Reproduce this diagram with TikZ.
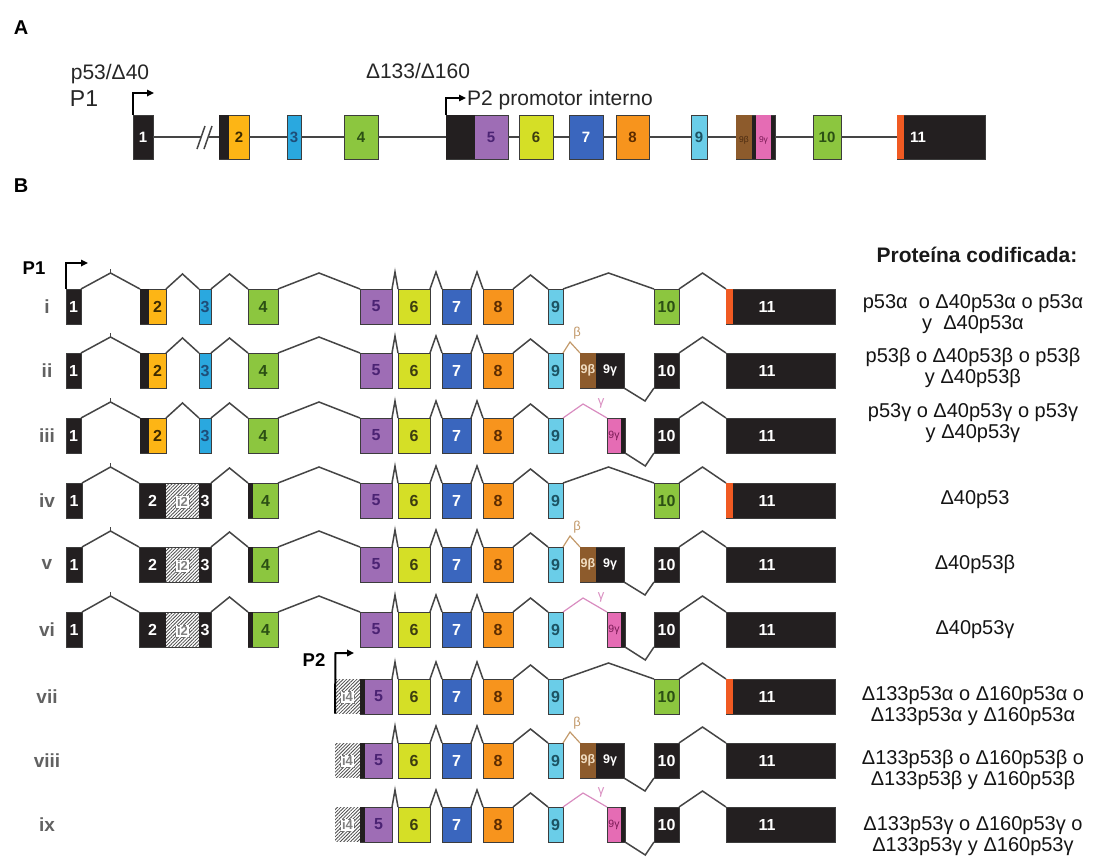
\documentclass[tikz,border=0pt]{standalone}
\usepackage{fontspec}
\setmainfont{Liberation Sans}
\usetikzlibrary{arrows.meta,patterns.meta,calc}
\definecolor{exblack}{HTML}{231F20}
\definecolor{exborder}{HTML}{3C3C3C}
\definecolor{cYel}{HTML}{FDB515}
\definecolor{cBlue3}{HTML}{2AA8DF}
\definecolor{cGreen}{HTML}{8CC63F}
\definecolor{cPurple}{HTML}{9E6DB5}
\definecolor{cLime}{HTML}{D5DF26}
\definecolor{cBlue7}{HTML}{3A66BE}
\definecolor{cOrange}{HTML}{F7941D}
\definecolor{cCyan}{HTML}{6ACDE8}
\definecolor{cBrown}{HTML}{8D5B2C}
\definecolor{cPink}{HTML}{E56CB4}
\definecolor{cRed}{HTML}{F05A22}
\definecolor{introngray}{HTML}{454545}
\definecolor{betatan}{HTML}{C39A6B}
\definecolor{gammapink}{HTML}{D98CC0}
\definecolor{lab2}{HTML}{3D2B00}
\definecolor{lab3}{HTML}{1E4E79}
\definecolor{lab4}{HTML}{2B4F14}
\definecolor{lab5}{HTML}{4B2373}
\definecolor{lab6}{HTML}{3D3D10}
\definecolor{lab8}{HTML}{5C2C00}
\definecolor{lab9}{HTML}{1D5363}
\definecolor{labbeta}{HTML}{F0DCC0}
\definecolor{labgam}{HTML}{7A1A55}
\definecolor{labbrA}{HTML}{4A2A10}
\tikzset{
  exbox/.style={draw=exborder,line width=0.9pt,inner sep=0pt,outer sep=0pt,anchor=north west,minimum height=35pt},
  exboxA/.style={exbox,minimum height=44pt},
  exlab/.style={inner sep=0pt,font=\bfseries\fontsize{16}{16}\selectfont},
  exlabA/.style={inner sep=0pt,font=\bfseries\fontsize{15}{15}\selectfont},
  exlabAs/.style={inner sep=0pt,font=\fontsize{8.5}{8.5}\selectfont},
  exlabS/.style={inner sep=0pt,font=\bfseries\fontsize{12.5}{12.5}\selectfont},
  exlabT/.style={inner sep=0pt,font=\fontsize{10.5}{10.5}\selectfont},
  greek/.style={inner sep=0pt,font=\fontsize{13}{13}\selectfont},
  intron/.style={draw=introngray,line width=1.5pt,line join=miter},
  backbone/.style={draw=introngray,line width=2pt},
  prom/.style={draw=black,line width=1.6pt,-{Triangle[length=7pt,width=6.5pt]}},
  hatch/.style={draw=none,fill=white,postaction={pattern={Lines[angle=45,distance=2.4pt,line width=0.8pt]},pattern color=black!70}},
  ilab/.style={draw=black!55,dashed,line width=0.6pt,fill=white,inner sep=1.5pt,text=black!50,font=\bfseries\fontsize{13}{13}\selectfont},
  rowlab/.style={font=\bfseries\fontsize{19}{19}\selectfont,text=black!62},
  prot/.style={font=\fontsize{20}{21}\selectfont,align=center,text=black!92},
  lblA/.style={font=\fontsize{21}{21}\selectfont,text=black!85},
  panlab/.style={font=\bfseries\fontsize{20}{20}\selectfont},
  promlab/.style={font=\bfseries\fontsize{18.5}{18.5}\selectfont},
}
\newcommand\XEx[6][exbox]{\node[#1,fill=#6,minimum width={(#4)-(#3)}] (#2) at (#3,#5) {};}
\newcommand\XLb[6][exlab]{\node[#1,text=#6] (#2) at (#3,#4) {#5};}
\newcommand\XSt[5]{\fill[#5] (#1,#3) rectangle (#2,#4);}
\newcommand\XPk[3]{\draw[intron] (#1.north east) -- ($(#1.north east)!0.5!(#2.north west)+(0,-#3)$) -- (#2.north west);}
\newcommand\XTick[2]{\draw[intron,line width=1pt] ($(#1.north east)!0.5!(#2.north west)+(0,-16)$) -- ++(0,-4);}
\newcommand\XVee[2]{\draw[intron] (#1.south east) -- ($(#1.south east)!0.7!(#2.south west)+(0,13)$) -- (#2.south west);}
\newcommand\StartA[2]{%
 \XEx{#1e1}{66}{81}{#2}{exblack}\XLb{#1l1}{73.5}{#2+17.5}{1}{white}
 \XEx{#1e2}{140}{166}{#2}{cYel}\XSt{140.45}{149}{#2+0.45}{#2+34.55}{exblack}\XLb{#1l2}{157.5}{#2+17.5}{2}{lab2}
 \XEx{#1e3}{199}{211}{#2}{cBlue3}\XLb{#1l3}{205}{#2+17.5}{3}{lab3}
 \XEx{#1e4}{248}{278}{#2}{cGreen}\XLb{#1l4}{263}{#2+17.5}{4}{lab4}
 \XPk{#1e1}{#1e2}{16}\XTick{#1e1}{#1e2}
 \XPk{#1e2}{#1e3}{15}\XPk{#1e3}{#1e4}{15}}
\newcommand\StartB[2]{%
 \XEx{#1e1}{66}{82}{#2}{exblack}\XLb{#1l1}{74}{#2+17.5}{1}{white}
 \XEx{#1e2}{139}{211}{#2}{exblack}
 \node[exbox,hatch,minimum width=33pt,minimum height=34pt] (#1i2) at (166,#2+0.5) {};
 \node[ilab] (#1li2) at (182.5,#2+19) {i2};
 \XLb{#1l2}{152.5}{#2+17.5}{2}{white}\XLb{#1l3}{205}{#2+17.5}{3}{white}
 \XEx{#1e4}{248}{278}{#2}{cGreen}\XSt{248.45}{253}{#2+0.45}{#2+34.55}{exblack}\XLb{#1l4}{265.5}{#2+17.5}{4}{lab4}
 \XPk{#1e1}{#1e2}{16}\XTick{#1e1}{#1e2}\XPk{#1e2}{#1e4}{15}}
\newcommand\FiveP[2]{\XEx{#1e5}{360}{392}{#2}{cPurple}\XLb{#1l5}{376}{#2+17.5}{5}{lab5}}
\newcommand\FiveQ[2]{%
 \node[exbox,hatch,minimum width=25pt,minimum height=34pt] (#1i4) at (335,#2+0.5) {};
 \node[ilab] (#1li4) at (347.5,#2+18) {i4};
 \XEx{#1e5}{360}{392}{#2}{cPurple}\XSt{360.45}{365}{#2+0.45}{#2+34.55}{exblack}\XLb{#1l5}{378.5}{#2+17.5}{5}{lab5}}
\newcommand\MidX[2]{%
 \XEx{#1e6}{398}{430}{#2}{cLime}\XLb{#1l6}{414}{#2+17.5}{6}{lab6}
 \XEx{#1e7}{442}{471}{#2}{cBlue7}\XLb{#1l7}{456.5}{#2+17.5}{7}{white}
 \XEx{#1e8}{483}{513}{#2}{cOrange}\XLb{#1l8}{498}{#2+17.5}{8}{lab8}
 \XEx{#1e9}{548}{563}{#2}{cCyan}\XLb{#1l9}{555.5}{#2+17.5}{9}{lab9}
 \XPk{#1e5}{#1e6}{17}\XPk{#1e6}{#1e7}{17}\XPk{#1e7}{#1e8}{17}\XPk{#1e8}{#1e9}{14}}
\newcommand\EndAl[2]{%
 \XEx{#1e10}{654}{679}{#2}{cGreen}\XLb{#1l10}{666.5}{#2+17.5}{10}{lab4}
 \XEx{#1e11}{726}{835}{#2}{exblack}\XSt{726.45}{733}{#2+0.45}{#2+34.55}{cRed}\XLb{#1l11}{767}{#2+17.5}{11}{white}
 \XPk{#1e9}{#1e10}{16}\XPk{#1e10}{#1e11}{16}}
\newcommand\EndTail[2]{%
 \XEx{#1e10}{654}{679}{#2}{exblack}\XLb{#1l10}{666.5}{#2+17.5}{10}{white}
 \XEx{#1e11}{726}{835}{#2}{exblack}\XLb{#1l11}{767}{#2+17.5}{11}{white}
 \XPk{#1e10}{#1e11}{16}}
\newcommand\EndBe[2]{%
 \XEx{#1e9x}{580}{624}{#2}{exblack}\XSt{580.45}{596}{#2+0.45}{#2+34.55}{cBrown}
 \XLb[exlabS]{#1l9b}{588}{#2+17.5}{9β}{labbeta}\XLb[exlabS]{#1l9g}{610}{#2+17.5}{9γ}{white}
 \draw[intron,draw=betatan,line width=1.2pt] (#1e9.north east) -- ++(7,-11) -- (#1e9x.north west);
 \node[greek,text=betatan] (#1lb) at (577,#2-20) {β};
 \EndTail{#1}{#2}\XVee{#1e9x}{#1e10}}
\newcommand\EndGa[2]{%
 \XEx{#1e9x}{607}{625}{#2}{cPink}\XSt{621}{624.55}{#2+0.45}{#2+34.55}{exblack}
 \XLb[exlabT]{#1l9g}{614}{#2+18}{9γ}{labgam}
 \draw[intron,draw=gammapink,line width=1.2pt] (#1e9.north east) -- ++(20,-14) -- (#1e9x.north west);
 \node[greek,text=gammapink] (#1lg) at (601,#2-15) {γ};
 \EndTail{#1}{#2}\XVee{#1e9x}{#1e10}}
\begin{document}
\begin{tikzpicture}[x=1pt,y=-1pt]
\fill[white] (0,0) rectangle (1101,863);
\useasboundingbox (0,0) rectangle (1101,863);
% ---------------- Panel A
\node[panlab] (labA) at (21,28) {A};
\node[lblA] (aTxt1) at (110,74) {p53/Δ40};
\node[lblA,font=\fontsize{23}{23}\selectfont] (aTxtP1) at (84,99) {P1};
\node[lblA] (aTxt2) at (418,71) {Δ133/Δ160};
\XEx[exboxA]{a1}{133}{153}{115}{exblack}
\XEx[exboxA]{a2}{219}{249}{115}{cYel}\XSt{219.45}{229}{115.45}{158.55}{exblack}
\XEx[exboxA]{a3}{287}{301}{115}{cBlue3}
\XEx[exboxA]{a4}{344}{378}{115}{cGreen}
\XEx[exboxA]{a5}{446}{508}{115}{cPurple}\XSt{446.45}{475}{115.45}{158.55}{exblack}
\XEx[exboxA]{a6}{519}{553}{115}{cLime}
\XEx[exboxA]{a7}{569}{603}{115}{cBlue7}
\XEx[exboxA]{a8}{616}{649}{115}{cOrange}
\XEx[exboxA]{a9}{691}{707}{115}{cCyan}
\XEx[exboxA]{a9x}{736}{775}{115}{exblack}\XSt{736.45}{752}{115.45}{158.55}{cBrown}\XSt{756}{771}{115.45}{158.55}{cPink}
\XEx[exboxA]{a10}{813}{841}{115}{cGreen}
\XEx[exboxA]{a11}{897}{985}{115}{exblack}\XSt{897.45}{904}{115.45}{158.55}{cRed}
\XLb[exlabA]{al1}{143}{137}{1}{white}
\XLb[exlabA]{al2}{239}{137}{2}{lab2}
\XLb[exlabA]{al3}{294}{137}{3}{lab3}
\XLb[exlabA]{al4}{361}{137}{4}{lab4}
\XLb[exlabA]{al5}{491}{137}{5}{lab5}
\XLb[exlabA]{al6}{536}{137}{6}{lab6}
\XLb[exlabA]{al7}{586}{137}{7}{white}
\XLb[exlabA]{al8}{632.5}{137}{8}{lab8}
\XLb[exlabA]{al9}{699}{137}{9}{lab9}
\XLb[exlabAs]{al9b}{744}{140}{9β}{labbrA}
\XLb[exlabAs]{al9g}{763.5}{140}{9γ}{labgam}
\XLb[exlabA]{al10}{827}{137}{10}{lab4}
\XLb[exlabA]{al11}{918}{137}{11}{white}
\coordinate (brkL) at (200.5,137);
\coordinate (brkR) at (208.5,137);
\draw[backbone] (a1.east) -- (brkL);
\draw[backbone] (brkR) -- (a2.west);
\draw[introngray,line width=1.5pt] (197,149) -- (205,126) (204,149) -- (212,126);
\foreach \u/\v in {a2/a3,a3/a4,a4/a5,a5/a6,a6/a7,a7/a8,a8/a9,a9/a9x,a9x/a10,a10/a11}
  \draw[backbone] (\u.east) -- (\v.west);
\coordinate (aP1c) at (133,93);
\coordinate (aP1h) at (154,93);
\draw[prom] (a1.north west) -- (aP1c) -- (aP1h);
\coordinate (aP2c) at (446,98);
\coordinate (aP2h) at (466,98);
\draw[prom,line width=1.3pt] (a5.north west) -- (aP2c) -- (aP2h);
\node[lblA,anchor=west,inner sep=0pt] (aP2t) at (467,100) {P2 promotor interno};
% ---------------- Panel B
\node[panlab] (labB) at (21,186) {B};
\node[promlab] (bP1) at (34,268) {P1};
\node[font=\bfseries\fontsize{21}{21}\selectfont,text=black!90] (hdr) at (977,255) {Proteína codificada:};
\StartA{r1}{289}\FiveP{r1}{289}\MidX{r1}{289}\XPk{r1e4}{r1e5}{16}\EndAl{r1}{289}
\StartA{r2}{353}\FiveP{r2}{353}\MidX{r2}{353}\XPk{r2e4}{r2e5}{16}\EndBe{r2}{353}
\StartA{r3}{418}\FiveP{r3}{418}\MidX{r3}{418}\XPk{r3e4}{r3e5}{16}\EndGa{r3}{418}
\StartB{r4}{483}\FiveP{r4}{483}\MidX{r4}{483}\XPk{r4e4}{r4e5}{16}\EndAl{r4}{483}
\StartB{r5}{547}\FiveP{r5}{547}\MidX{r5}{547}\XPk{r5e4}{r5e5}{16}\EndBe{r5}{547}
\StartB{r6}{612}\FiveP{r6}{612}\MidX{r6}{612}\XPk{r6e4}{r6e5}{16}\EndGa{r6}{612}
\FiveQ{r7}{679}\MidX{r7}{679}\EndAl{r7}{679}
\FiveQ{r8}{743}\MidX{r8}{743}\EndBe{r8}{743}
\FiveQ{r9}{807}\MidX{r9}{807}\EndGa{r9}{807}
\coordinate (bP1c) at (66,263);
\coordinate (bP1h) at (88,263);
\draw[prom] (r1e1.north west) -- (bP1c) -- (bP1h);
\node[promlab] (bP2) at (314,660) {P2};
\coordinate (bP2c) at (335.5,653);
\coordinate (bP2h) at (354,653);
\draw[prom,line width=2pt] (r7i4.south west) -- (bP2c) -- (bP2h);
% row labels
\node[rowlab] (rl1) at (47,306.5) {i};
\node[rowlab] (rl2) at (47,370.5) {ii};
\node[rowlab] (rl3) at (47,435.5) {iii};
\node[rowlab] (rl4) at (47,500.5) {iv};
\node[rowlab] (rl5) at (47,564.5) {v};
\node[rowlab] (rl6) at (47,629.5) {vi};
\node[rowlab] (rl7) at (47,696.5) {vii};
\node[rowlab] (rl8) at (47,760.5) {viii};
\node[rowlab] (rl9) at (47,824.5) {ix};
% protein texts
\node[prot] (t1) at (973,314) {p53α\ \ o Δ40p53α o p53α\\y\ \ Δ40p53α};
\node[prot] (t2) at (973,368) {p53β o Δ40p53β o p53β\\y Δ40p53β};
\node[prot] (t3) at (973,423) {p53γ o Δ40p53γ o p53γ\\y Δ40p53γ};
\node[prot] (t4) at (975,500) {Δ40p53};
\node[prot] (t5) at (975,564) {Δ40p53β};
\node[prot] (t6) at (975,630) {Δ40p53γ};
\node[prot] (t7) at (973,706) {Δ133p53α o Δ160p53α o\\Δ133p53α y Δ160p53α};
\node[prot] (t8) at (973,770) {Δ133p53β o Δ160p53β o\\Δ133p53β y Δ160p53β};
\node[prot] (t9) at (973,836) {Δ133p53γ o Δ160p53γ o\\Δ133p53γ y Δ160p53γ};
\end{tikzpicture}
\end{document}
